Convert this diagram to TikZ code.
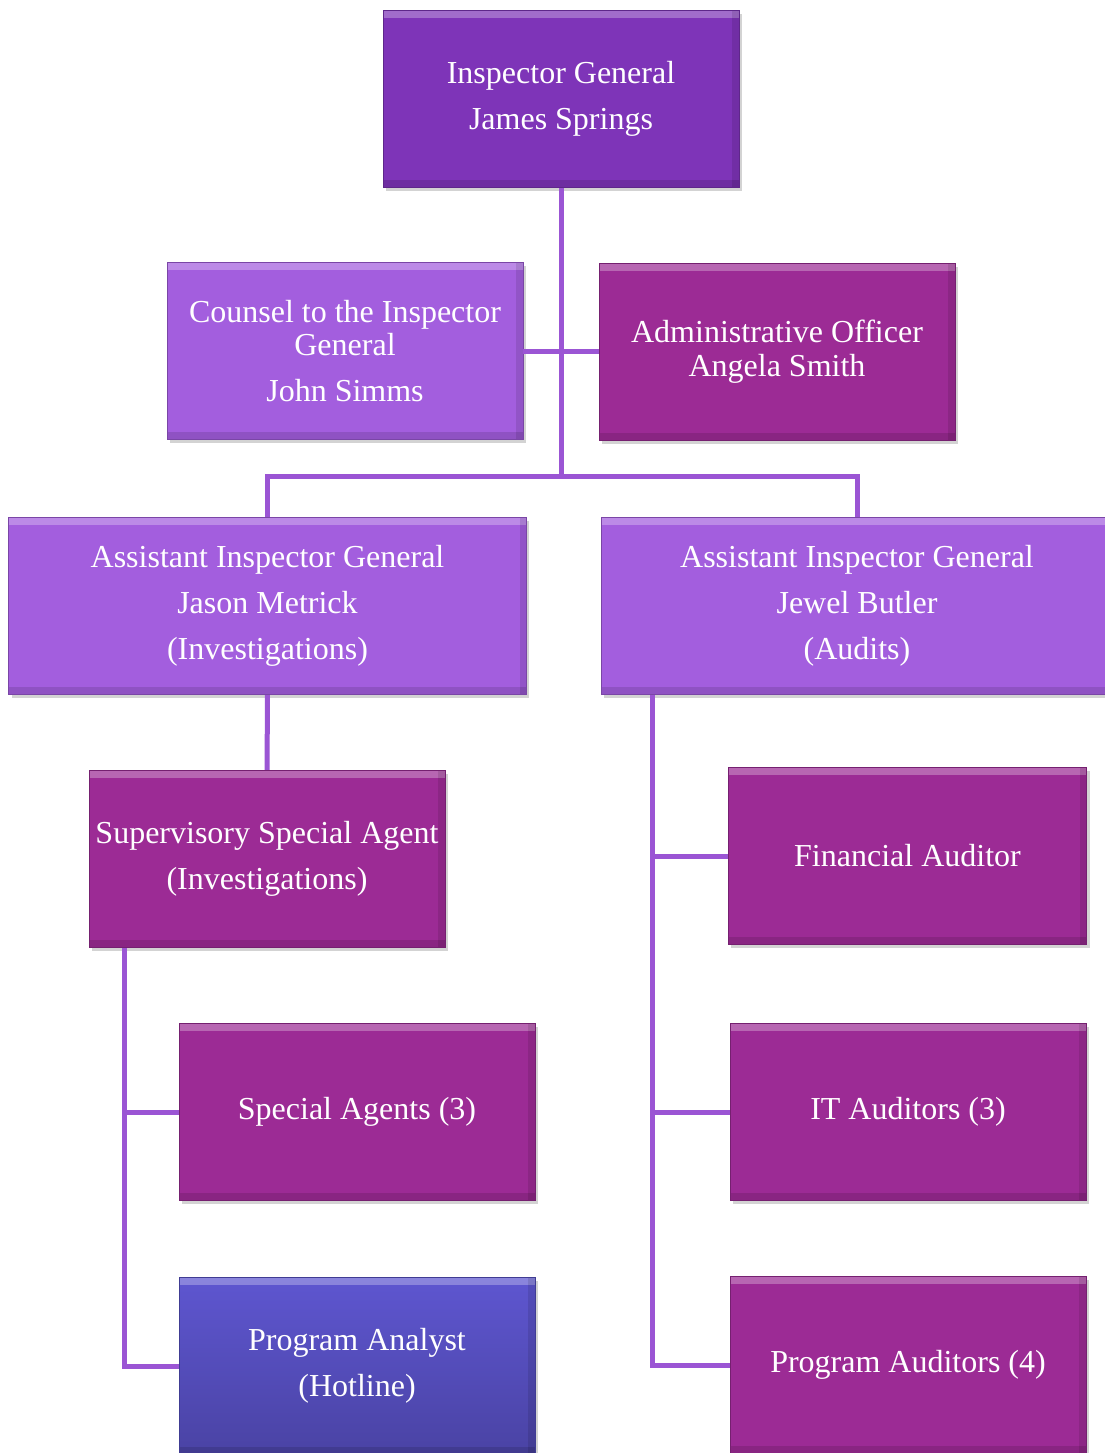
\documentclass[tikz,border=0pt]{standalone}
\usepackage{fontspec}
\setmainfont{Liberation Serif}
\usetikzlibrary{shadows,positioning}

\definecolor{igpurple}{HTML}{7E34B8}
\definecolor{lavender}{HTML}{A35EDE}
\definecolor{plum}{HTML}{9C2B95}
\definecolor{hotline}{HTML}{5650C4}
\definecolor{hotlinetop}{HTML}{5E56D0}
\definecolor{hotlinebot}{HTML}{4A43A4}
\definecolor{linkpurple}{HTML}{9B55D4}

\begin{document}
\begin{tikzpicture}[x=0.75pt,y=-0.75pt,
    unit/.style={fill=#1, draw=#1!75!black, line width=0.6pt,
      minimum width=267pt, minimum height=133pt, inner sep=0pt,
      text=white, align=center, font=\fontsize{24}{25}\selectfont,
      drop shadow={opacity=0.35, shadow xshift=2pt, shadow yshift=-2.5pt},
      path picture={
        \fill[white, opacity=0.28] (path picture bounding box.north west)
          rectangle ([yshift=-6pt]path picture bounding box.north east);
        \fill[black, opacity=0.12] (path picture bounding box.south west)
          rectangle ([yshift=6pt]path picture bounding box.south east);
        \fill[black, opacity=0.10] (path picture bounding box.north east)
          rectangle ([xshift=-5pt]path picture bounding box.south east);}},
    link/.style={draw=linkpurple, line width=3.75pt}]
  \useasboundingbox (0,0) rectangle (1104,1453);

  % top
  \node[unit=igpurple] (ig) at (561,99) {Inspector General\\[9.5pt]James Springs};
  \node[unit=lavender] (counsel) at (345,351)
    {Counsel to the Inspector\\General\\[9.5pt]John Simms};
  \node[unit=plum] (admin) at (777,352) {Administrative Officer\\[0.5pt]Angela Smith};

  % assistants
  \node[unit=lavender, minimum width=388pt] (inv) at (267.5,606)
    {Assistant Inspector General\\[9.5pt]Jason Metrick\\[9.5pt](Investigations)};
  \node[unit=lavender, minimum width=383pt] (aud) at (857,606)
    {Assistant Inspector General\\[9.5pt]Jewel Butler\\[9.5pt](Audits)};

  % investigations side
  \node[unit=plum] (ssa) at (267,859)
    {Supervisory Special Agent\\[9.5pt](Investigations)};
  \node[unit=plum] (agents) at (357,1112) {Special Agents (3)};
  \node[unit=hotline, top color=hotlinetop, bottom color=hotlinebot] (analyst) at (357,1366)
    {Program Analyst\\[9.5pt](Hotline)};

  % audits side
  \node[unit=plum, minimum width=269pt] (fin) at (907.5,856) {Financial Auditor};
  \node[unit=plum] (itaud) at (908,1112) {IT Auditors (3)};
  \node[unit=plum] (progaud) at (908,1365) {Program Auditors (4)};

  \coordinate (split) at (561,476);

  % connectors
  \draw[link] (ig) -- (split);
  \draw[link] (counsel.east) -- (counsel.east -| admin.west);
  \draw[link] (inv.north) |- (split) -| (aud.north);
  \draw[link] (inv) -- (ssa);
  \draw[link] ([xshift=27pt]ssa.south west) |- (agents.west);
  \draw[link] ([xshift=27pt]ssa.south west) |- (analyst.west);
  \draw[link] ([xshift=38.25pt]aud.south west) |- (fin.west);
  \draw[link] ([xshift=38.25pt]aud.south west) |- (itaud.west);
  \draw[link] ([xshift=38.25pt]aud.south west) |- (progaud.west);
\end{tikzpicture}
\end{document}
